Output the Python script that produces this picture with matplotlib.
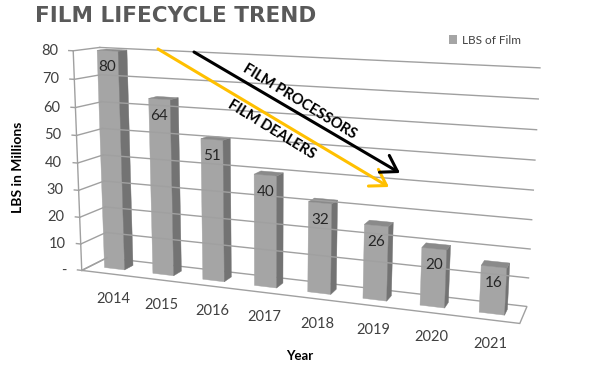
import numpy as np
import matplotlib
matplotlib.use("Agg")
import matplotlib.pyplot as plt
import matplotlib.transforms as mtransforms
from matplotlib.patches import Polygon, Patch

plt.rcParams["font.family"] = ["Lato", "DejaVu Sans"]

years = ["2014", "2015", "2016", "2017", "2018", "2019", "2020", "2021"]
lbs = [80, 64, 51, 40, 32, 26, 20, 16]
y_ticks = [0, 10, 20, 30, 40, 50, 60, 70, 80]
y_labels = ["-", "10", "20", "30", "40", "50", "60", "70", "80"]

# corners of the fake 3d box (category, value, depth) and where they sit in pixels
box_pts = np.array([[0, 80, 0], [0, 10, 0], [0, 0, 0], [8, 0, 0], [8, 0, 1],
                    [8, 80, 1], [0, 80, 1], [0, 10, 1], [8, 40, 1]], float)
pix_pts = np.array([[73, 52], [81.5, 242], [81, 269], [520, 326], [527, 304],
                    [540, 68], [100, 46], [106, 236], [533, 190]], float)
SCALE = np.array([1 / 8, 1 / 80, 1.0])


def fit_camera(p3, p2):
    rows = []
    for (X, Y, Z), (u, v) in zip(p3 * SCALE, p2 / 100):
        rows.append([X, Y, Z, 1, 0, 0, 0, 0, -u * X, -u * Y, -u * Z, -u])
        rows.append([0, 0, 0, 0, X, Y, Z, 1, -v * X, -v * Y, -v * Z, -v])
    _, _, vt = np.linalg.svd(np.array(rows))
    return vt[-1].reshape(3, 4)


CAM = fit_camera(box_pts, pix_pts)


class Plane(mtransforms.Transform):
    """2d coords on a plane of the box (one of x/value/depth held fixed) -> pixels"""
    input_dims = output_dims = 2

    def __init__(self, axis, const):
        super().__init__()
        self.axis, self.const = axis, const

    def transform_non_affine(self, values):
        uv = np.asarray(values, float).reshape(-1, 2)
        p = np.insert(uv, self.axis, self.const, axis=1) * SCALE
        h = np.c_[p, np.ones(len(p))] @ CAM.T
        return 100 * h[:, :2] / h[:, 2:3]


fig = plt.figure(figsize=(6, 3.72), dpi=100)
ax = fig.add_axes([0, 0, 1, 1])
ax.set_xlim(0, 600)
ax.set_ylim(372, 0)
ax.set_autoscale_on(False)
ax.axis("off")


def on(axis, const, dx=0, dy=0):
    tr = Plane(axis, const) + ax.transData
    if dx or dy:
        tr = mtransforms.offset_copy(tr, fig, x=dx, y=dy, units="points")
    return tr


grid_c = "#a0a0a0"
tick_c = "#404040"

# floor, walls, gridlines
ax.add_patch(Polygon([(0, 0), (8, 0), (8, 1), (0, 1)], closed=True, fc="white",
                     ec=grid_c, lw=1, transform=on(1, 0)))
ax.plot([0, 0], [0, 80], color=grid_c, lw=1, transform=on(2, 0))
for t, lab in zip(y_ticks, y_labels):
    ax.plot([t, t], [0, 1], color=grid_c, lw=1, transform=on(0, 0))
    if t > 0:
        ax.plot([0, 8], [t, t], color=grid_c, lw=1, transform=on(2, 1))
    ax.plot([-0.09, 0], [t, t], color=grid_c, lw=1, transform=on(2, 0))
    ax.text(0, t, lab, ha="right", va="center", fontsize=10.5, color=tick_c,
            transform=on(2, 0, dx=-11))

# bars
bw, z0, z1 = 0.42, 0.35, 0.7
for i, v in enumerate(lbs):
    xl, xr = i + 0.5 - bw / 2, i + 0.5 + bw / 2
    ax.add_patch(Polygon([(xl, 0), (xr, 0), (xr, v), (xl, v)], fc="#a5a5a5",
                         ec="#a5a5a5", lw=0.3, transform=on(2, z0)))
    ax.add_patch(Polygon([(0, z0), (v, z0), (v, z1), (0, z1)], fc="#737373",
                         ec="#737373", lw=0.3, transform=on(0, xr)))
    ax.add_patch(Polygon([(xl, z0), (xr, z0), (xr, z1), (xl, z1)], fc="#8a8a8a",
                         ec="#8a8a8a", lw=0.3, transform=on(1, v)))
    ax.text(i + 0.5, v, str(v), ha="center", va="center", fontsize=11,
            color="#262626", transform=on(2, z0, dy=-12))
    ax.text(i + 0.5, 0, years[i], ha="center", va="center", fontsize=10.5,
            color=tick_c, transform=on(2, z0, dx=-1, dy=-22))

# trend arrows
ax.annotate("", xy=(389, 187), xytext=(158, 49),
            arrowprops=dict(arrowstyle="->,head_length=0.55,head_width=0.35",
                            color="#FFC000", lw=2.2, shrinkA=0, shrinkB=0,
                            mutation_scale=20))
ax.annotate("", xy=(400, 173), xytext=(194, 52),
            arrowprops=dict(arrowstyle="->,head_length=0.55,head_width=0.35",
                            color="black", lw=2.2, shrinkA=0, shrinkB=0,
                            mutation_scale=20))
ax.text(300, 102, "FILM PROCESSORS", rotation=-31.5, rotation_mode="anchor",
        ha="center", va="center", fontsize=10.5, fontweight="bold")
ax.text(272, 130, "FILM DEALERS", rotation=-31.5, rotation_mode="anchor",
        ha="center", va="center", fontsize=10.5, fontweight="bold")

fig.text(35 / 600, 1 - 22 / 372, "FILM LIFECYCLE TREND", ha="left", va="baseline",
         fontsize=15.5, fontweight="bold", color="#595959", family="DejaVu Sans")
fig.text(18 / 600, 1 - 167 / 372, "LBS in Millions", rotation=90, ha="center",
         va="center", fontsize=10, fontweight="bold", color="black")
fig.text(300 / 600, 1 - 356 / 372, "Year", ha="center", va="center",
         fontsize=9.5, fontweight="bold", color="black")

ax.legend(handles=[Patch(fc="#a5a5a5", label="LBS of Film")], loc="center left",
          bbox_to_anchor=(449 / 600, 1 - 40 / 372), frameon=False, fontsize=8.5,
          handlelength=0.7, handleheight=0.7, handletextpad=0.4, borderpad=0,
          borderaxespad=0, labelcolor="#404040")

fig.savefig("out.png", dpi=100)
